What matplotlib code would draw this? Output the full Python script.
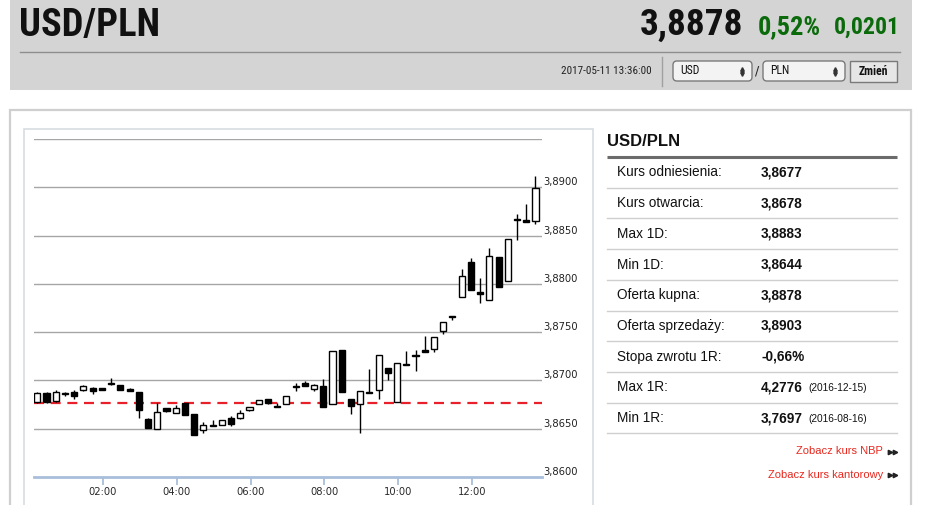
import matplotlib
matplotlib.use("Agg")
import matplotlib.pyplot as plt
from matplotlib.patches import Rectangle, FancyBboxPatch
from matplotlib import font_manager as fm
import numpy as np

# ---------------- data ----------------
pair = "USD/PLN"
last_price = "3,8878"
change_pct = "0,52%"
change_abs = "0,0201"
timestamp = "2017-05-11 13:36:00"
base_cur = "USD"
quote_cur = "PLN"
button_label = "Zmień"

reference_rate = 3.8677

# 15-minute candles (open, high, low, close)
opens = [3.8678, 3.8687, 3.8679, 3.8686, 3.8688, 3.8690, 3.8692, 3.8692, 3.8696, 3.8695,
         3.8691, 3.8688, 3.8660, 3.8650, 3.8671, 3.8666, 3.8677, 3.8665, 3.8649, 3.8653,
         3.8654, 3.8661, 3.8661, 3.8669, 3.8676, 3.8681, 3.8673, 3.8676, 3.8693, 3.8697,
         3.8691, 3.8694, 3.8676, 3.8731, 3.8681, 3.8676, 3.8687, 3.8690, 3.8713, 3.8678,
         3.8716, 3.8725, 3.8731, 3.8733, 3.8751, 3.8767, 3.8786, 3.8823, 3.8792, 3.8783,
         3.8828, 3.8803, 3.8866, 3.8866, 3.8865]
highs = [3.8688, 3.8688, 3.8690, 3.8688, 3.8690, 3.8695, 3.8693, 3.8692, 3.8702, 3.8695,
         3.8692, 3.8688, 3.8661, 3.8677, 3.8671, 3.8675, 3.8677, 3.8665, 3.8657, 3.8659,
         3.8659, 3.8663, 3.8669, 3.8673, 3.8680, 3.8681, 3.8677, 3.8684, 3.8697, 3.8699,
         3.8696, 3.8701, 3.8730, 3.8731, 3.8681, 3.8689, 3.8712, 3.8726, 3.8713, 3.8718,
         3.8730, 3.8731, 3.8746, 3.8745, 3.8761, 3.8767, 3.8815, 3.8827, 3.8806, 3.8837,
         3.8828, 3.8846, 3.8872, 3.8883, 3.8912]
lows = [3.8677, 3.8677, 3.8678, 3.8684, 3.8681, 3.8689, 3.8686, 3.8690, 3.8695, 3.8690,
        3.8689, 3.8661, 3.8651, 3.8650, 3.8667, 3.8666, 3.8664, 3.8644, 3.8646, 3.8653,
        3.8654, 3.8653, 3.8660, 3.8668, 3.8676, 3.8676, 3.8673, 3.8676, 3.8689, 3.8694,
        3.8689, 3.8672, 3.8676, 3.8688, 3.8665, 3.8646, 3.8687, 3.8681, 3.8700, 3.8678,
        3.8716, 3.8710, 3.8729, 3.8729, 3.8748, 3.8763, 3.8786, 3.8794, 3.8780, 3.8783,
        3.8797, 3.8803, 3.8845, 3.8864, 3.8862]
closes = [3.8687, 3.8678, 3.8688, 3.8686, 3.8684, 3.8694, 3.8689, 3.8690, 3.8696, 3.8690,
          3.8689, 3.8669, 3.8651, 3.8667, 3.8668, 3.8671, 3.8664, 3.8644, 3.8654, 3.8653,
          3.8659, 3.8655, 3.8666, 3.8672, 3.8680, 3.8677, 3.8673, 3.8684, 3.8693, 3.8694,
          3.8695, 3.8672, 3.8730, 3.8688, 3.8674, 3.8689, 3.8687, 3.8726, 3.8708, 3.8718,
          3.8717, 3.8726, 3.8729, 3.8745, 3.8761, 3.8766, 3.8808, 3.8794, 3.8790, 3.8829,
          3.8797, 3.8846, 3.8867, 3.8864, 3.8899]

first_candle_hour = 0.22   # first candle centre (hours)
candle_step_hour = 0.25    # 15 minutes

y_ticks = [3.8600, 3.8650, 3.8700, 3.8750, 3.8800, 3.8850, 3.8900, 3.8950]
y_tick_labels = ["3,8600", "3,8650", "3,8700", "3,8750", "3,8800", "3,8850", "3,8900", ""]
x_ticks = [2, 4, 6, 8, 10, 12]
x_tick_labels = ["02:00", "04:00", "06:00", "08:00", "10:00", "12:00"]

table_title = "USD/PLN"
table_labels = ["Kurs odniesienia:", "Kurs otwarcia:", "Max 1D:", "Min 1D:", "Oferta kupna:",
                "Oferta sprzedaży:", "Stopa zwrotu 1R:", "Max 1R:", "Min 1R:"]
table_values = ["3,8677", "3,8678", "3,8883", "3,8644", "3,8878",
                "3,8903", "-0,66%", "4,2776", "3,7697"]
table_dates = ["", "", "", "", "", "", "", "(2016-12-15)", "(2016-08-16)"]
links = ["Zobacz kurs NBP", "Zobacz kurs kantorowy"]

# ---------------- fonts ----------------
def condensed_font(weight):
    for fam in ["Liberation Sans Narrow", "Roboto Condensed", "Open Sans Condensed",
                "Noto Sans Display", "DejaVu Sans", "Noto Sans", "Open Sans", "Roboto"]:
        try:
            path = fm.findfont(fm.FontProperties(family=fam, weight=weight, stretch="condensed"),
                               fallback_to_default=False)
        except Exception:
            continue
        if any(k in path for k in ("Narrow", "Condensed", "Cond")):
            return path
    return None


COND_B = condensed_font("bold")
COND_R = condensed_font("normal")


def head_fp(bold=True):
    path = COND_B if bold else COND_R
    if path:
        return fm.FontProperties(fname=path)
    return fm.FontProperties(family="Roboto", weight="bold" if bold else "normal")


# ---------------- figure ----------------
W, H = 945, 505
fig = plt.figure(figsize=(W / 100, H / 100), dpi=100)
fig.patch.set_facecolor("white")
renderer = fig.canvas.get_renderer()

bg = fig.add_axes([0, 0, 1, 1])
bg.set_xlim(0, W)
bg.set_ylim(H, 0)
bg.set_axis_off()

ARIAL = ["Liberation Sans", "DejaVu Sans"]


def T(x, y, s, **kw):
    kw.setdefault("va", "center")
    return bg.text(x, y, s, **kw)


def fitT(x, y, s, width, fp, size, **kw):
    """Text in header font, shrunk if needed so it spans at most `width` pixels."""
    fp = fp.copy()
    fp.set_size(size)
    t = T(x, y, s, fontproperties=fp, **kw)
    w = t.get_window_extent(renderer).width
    if w > width:
        fp.set_size(size * width / w)
        t.set_fontproperties(fp)
    return t


# header
bg.add_patch(Rectangle((10, 0), 902, 90, facecolor="#d4d4d4", edgecolor="none"))
fitT(19, 25, pair, 141, head_fp(True), 28, color="#111111")
fitT(900, 27, change_abs, 66, head_fp(True), 19, color="#0b6a0b", ha="right")
fitT(821, 27, change_pct, 64, head_fp(True), 19, color="#0b6a0b", ha="right")
fitT(743, 25, last_price, 103, head_fp(True), 28, color="#111111", ha="right")
bg.plot([20, 900], [52, 52], color="#8e8e8e", lw=1)
fitT(652, 71, timestamp, 97, head_fp(False), 8, color="#222222", ha="right")
bg.plot([662, 662], [57, 86], color="#a0a0a0", lw=1)
for (x0, w, lab) in [(673, 79, base_cur), (763, 82, quote_cur)]:
    bg.add_patch(FancyBboxPatch((x0, 61), w, 20, boxstyle="round,pad=0,rounding_size=4",
                                facecolor="#f3f3f3", edgecolor="#7a7a7a", lw=1))
    fitT(x0 + 7, 71, lab, 22, head_fp(False), 8.5, color="#111111")
    bg.plot([x0 + w - 10], [68.5], marker="^", ms=2.6, color="#333333")
    bg.plot([x0 + w - 10], [73.5], marker="v", ms=2.6, color="#333333")
T(757.5, 71, "/", fontsize=9, color="#222222", ha="center")
bg.add_patch(Rectangle((850, 61), 47, 21, facecolor="#e6e6e6", edgecolor="#7a7a7a", lw=1))
fitT(873.5, 71.5, button_label, 36, head_fp(True), 8.5, color="#111111", ha="center")

# panels
bg.add_patch(Rectangle((10, 110), 901, 420, facecolor="white", edgecolor="#cfcfcf", lw=1.6))
bg.add_patch(Rectangle((24, 129), 569, 400, facecolor="white", edgecolor="#d6dde0", lw=1.2))

# table
T(607, 141.5, table_title, family=ARIAL, fontweight="bold", fontsize=12, color="#111111")
bg.plot([607, 897], [156.5, 156.5], color="#6b6b6b", lw=2.2, solid_capstyle="butt")
row0, pitch = 172.5, 30.7
for i, (lab, val, dt) in enumerate(zip(table_labels, table_values, table_dates)):
    yc = row0 + i * pitch
    T(617, yc, lab, family=ARIAL, fontsize=9.8, color="#111111")
    T(761, yc, val, family=ARIAL, fontsize=9.8, fontweight="bold", color="#111111")
    if dt:
        T(808, yc + 1, dt, family=ARIAL, fontsize=7.3, color="#111111")
    bg.plot([607, 897], [yc + 15.2, yc + 15.2], color="#cfcfcf", lw=1)
for j, lk in enumerate(links):
    yc = 451.5 + j * 23
    T(883, yc, lk, family=ARIAL, fontsize=8, color="#e8281e", ha="right")
    bg.plot([889.5, 894.5], [yc, yc], ls="none", marker=">", ms=3.2, color="#222222")

# ---------------- chart ----------------
px_left, px_right, px_top, px_bottom = 34, 542, 139, 477
ax = fig.add_axes([px_left / W, (H - px_bottom) / H, (px_right - px_left) / W, (px_bottom - px_top) / H])
ax.set_facecolor("none")
hour_per_px = 2.0 / 73.8
x_lo = 2 + (px_left - 103) * hour_per_px
x_hi = 2 + (px_right - 103) * hour_per_px
ax.set_xlim(x_lo, x_hi)
ax.set_ylim(y_ticks[0], y_ticks[-1])

for v in y_ticks[1:]:
    ax.axhline(v, color="#a6a6a6", lw=1, zorder=1)
for v, lab in zip(y_ticks, y_tick_labels):
    if lab:
        ax.annotate(lab, xy=(1, v), xycoords=("axes fraction", "data"), xytext=(1, 5),
                    textcoords="offset pixels", ha="left", va="center",
                    fontsize=7.2, color="#222222", family="DejaVu Sans", annotation_clip=False)

ax.axhline(reference_rate, color="#e8202a", lw=1.6, ls=(0, (4.5, 3)), zorder=2)

n = len(opens)
xs = first_candle_hour + candle_step_hour * np.arange(n)
o = np.array(opens); h = np.array(highs); l = np.array(lows); c = np.array(closes)
ax.vlines(xs, l, h, color="black", lw=1, zorder=3)
bottoms = np.minimum(o, c)
heights = np.maximum(np.abs(c - o), 0.00009)
faces = ["white" if cc >= oo else "black" for oo, cc in zip(o, c)]
ax.bar(xs, heights, bottom=bottoms, width=0.165, color=faces, edgecolor="black", lw=1, zorder=4)

for s in ["top", "left", "right"]:
    ax.spines[s].set_visible(False)
ax.spines["bottom"].set_color("#a9bedb")
ax.spines["bottom"].set_linewidth(2)
ax.set_yticks([])
ax.set_xticks(x_ticks)
ax.set_xticklabels(x_tick_labels, fontsize=7.2, color="#2a2a2a", family="DejaVu Sans")
ax.tick_params(axis="x", direction="out", length=6, width=1.3, color="#a9bedb", pad=1.5)

fig.savefig("out.png", dpi=100, facecolor="white")
